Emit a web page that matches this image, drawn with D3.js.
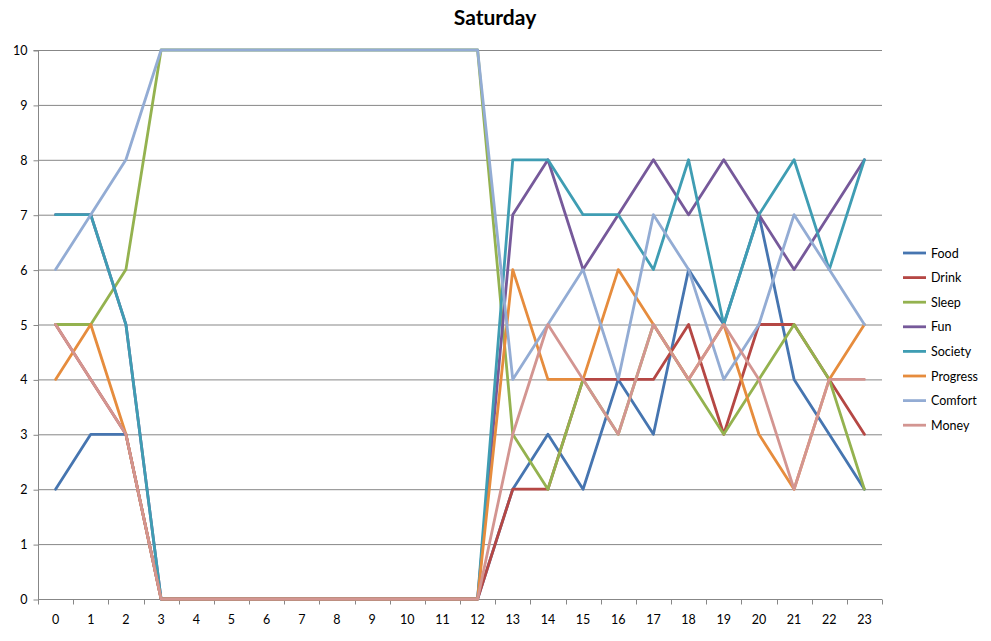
<!DOCTYPE html>
<html><head><meta charset="utf-8">
<script src="https://cdn.jsdelivr.net/npm/d3@7"></script>
<style>body{margin:0;background:#fff;} svg{display:block;}</style>
</head><body>
<script>
const hours = d3.range(0,24).map(String);
const seriesNames = ["Food","Drink","Sleep","Fun","Society","Progress","Comfort","Money"];
const colors = ["#4675B0","#B54744","#94B24F","#76599A","#3F9DB3","#E68C3D","#93ACD4","#D39591"];
const food     = [2,3,3,0,0,0,0,0,0,0,0,0,0,2,3,2,4,3,6,5,7,4,3,2];
const drink    = [5,4,3,0,0,0,0,0,0,0,0,0,0,2,2,4,4,4,5,3,5,5,4,3];
const sleep    = [5,5,6,10,10,10,10,10,10,10,10,10,10,3,2,4,3,5,4,3,4,5,4,2];
const fun      = [7,7,5,0,0,0,0,0,0,0,0,0,0,7,8,6,7,8,7,8,7,6,7,8];
const society  = [7,7,5,0,0,0,0,0,0,0,0,0,0,8,8,7,7,6,8,5,7,8,6,8];
const progress = [4,5,3,0,0,0,0,0,0,0,0,0,0,6,4,4,6,5,4,5,3,2,4,5];
const comfort  = [6,7,8,10,10,10,10,10,10,10,10,10,10,4,5,6,4,7,6,4,5,7,6,5];
const money    = [5,4,3,0,0,0,0,0,0,0,0,0,0,3,5,4,3,5,4,5,4,2,4,4];
const yTicks = [0,1,2,3,4,5,6,7,8,9,10];
const title = "Saturday";

const values = [food,drink,sleep,fun,society,progress,comfort,money];
const W=991,H=641;
const svg=d3.select("body").append("svg").attr("width",W).attr("height",H);
const font="Lato, 'Open Sans', sans-serif";
const L=38,R=882,T=50,B=599;
const x=d3.scaleBand().domain(hours).range([L,R]);
const y=d3.scaleLinear().domain([0,10]).range([B,T]);
const gridColor="#878787";

svg.append("text").attr("x",495).attr("y",25).attr("text-anchor","middle")
  .attr("font-family",font).attr("font-weight","bold").attr("font-size",21).text(title);

// gridlines
svg.append("g").selectAll("line").data(yTicks.filter(d=>d>0)).join("line")
  .attr("x1",L).attr("x2",R).attr("y1",d=>y(d)+0.5).attr("y2",d=>y(d)+0.5)
  .attr("stroke",gridColor).attr("stroke-width",1);

// y axis
const ya=svg.append("g").attr("transform",`translate(${L+0.5},0.5)`)
  .call(d3.axisLeft(y).tickValues(yTicks).tickSize(5).tickPadding(6));
ya.select(".domain").attr("stroke",gridColor).attr("d",`M-5,${y(10)}H0V${y(0)}`);
ya.selectAll(".tick line").attr("stroke",gridColor);
ya.selectAll("text").attr("font-family",font).attr("font-size",12.5).attr("fill","#000");

// x axis
const xa=svg.append("g").attr("transform",`translate(0,${B+0.5})`)
  .call(d3.axisBottom(x).tickSize(0).tickPadding(16));
xa.select(".domain").attr("stroke",gridColor).attr("d",`M${L},0H${R}`);
xa.selectAll("text").attr("font-family",font).attr("font-size",12.5).attr("fill","#000");
xa.append("g").selectAll("line").data(d3.range(0,25)).join("line")
  .attr("x1",d=>Math.round(L+d*x.step())+0.5).attr("x2",d=>Math.round(L+d*x.step())+0.5)
  .attr("y1",0).attr("y2",5).attr("stroke",gridColor);

// lines
const line=d3.line().x((d,i)=>x(hours[i])+x.bandwidth()/2).y(d=>y(d));
svg.append("g").selectAll("path").data(values).join("path")
  .attr("d",d=>line(d)).attr("fill","none")
  .attr("stroke",(d,i)=>colors[i]).attr("stroke-width",2.8)
  .attr("stroke-linejoin","round").attr("stroke-linecap","round");

// legend
const lg=svg.append("g").selectAll("g").data(seriesNames).join("g")
  .attr("transform",(d,i)=>`translate(903,${253+i*24.6})`);
lg.append("line").attr("x1",0).attr("x2",23).attr("y1",0).attr("y2",0)
  .attr("stroke",(d,i)=>colors[i]).attr("stroke-width",2.8);
lg.append("text").attr("x",28).attr("y",4.5).attr("font-family",font).attr("font-size",12.5)
  .text(d=>d);
</script>
</body></html>
